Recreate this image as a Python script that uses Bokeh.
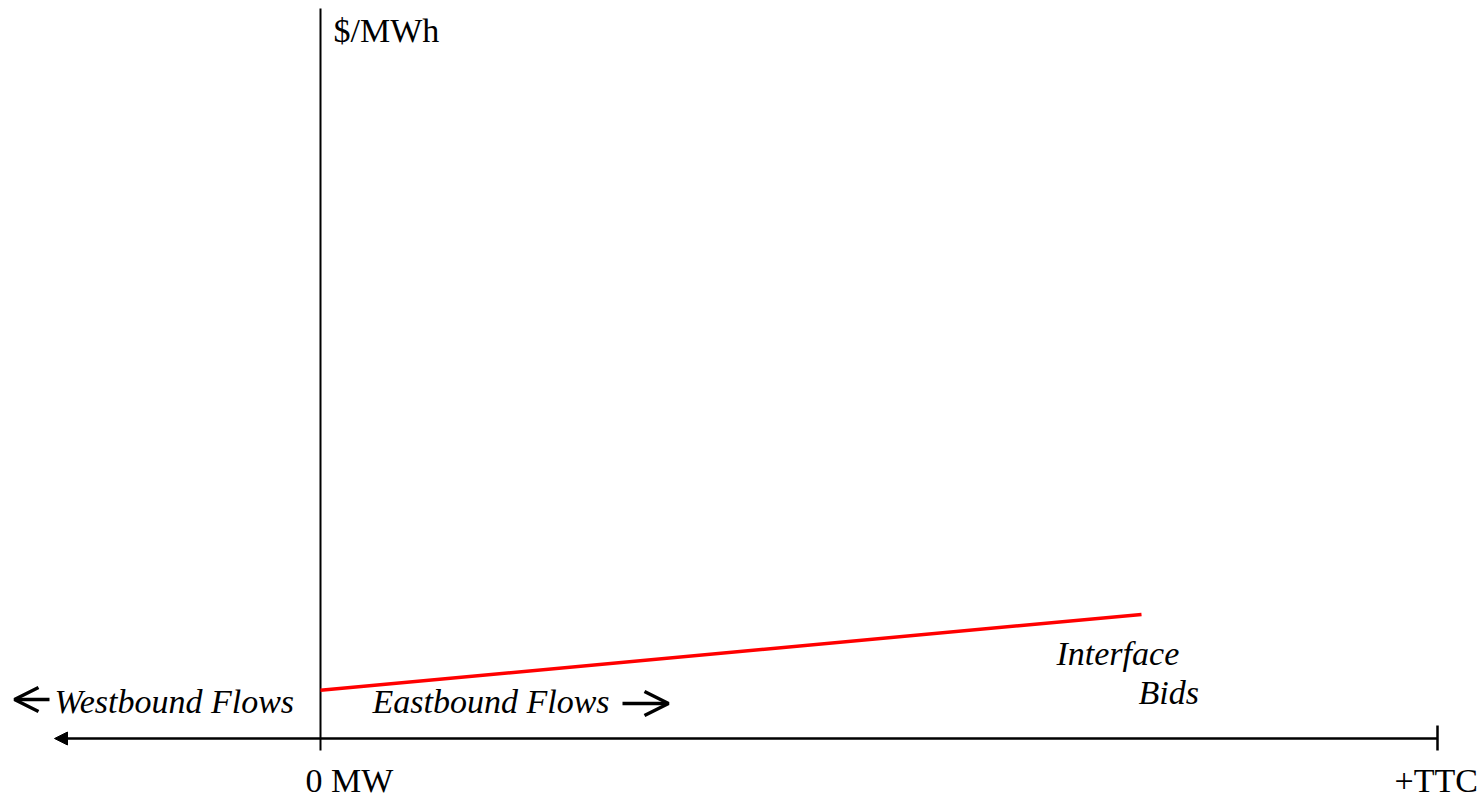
from bokeh.plotting import figure
from bokeh.models import Range1d, Label, Arrow, NormalHead, OpenHead
from bokeh.embed import file_html
from bokeh.resources import INLINE

# ---- data ----
flow_mw = [0, 735]            # interface bid curve, MW (eastbound)
bid_price = [6.6, 17.0]       # $/MWh
ttc_mw = 1000                 # total transfer capability
axis_tick_mw = [0, 1000]
axis_tick_labels = ["0 MW", "+TTC"]
y_axis_label = "$/MWh"
west_label = "Westbound Flows"
east_label = "Eastbound Flows"
curve_label = ["Interface", "Bids"]

# ---- layout ----
W, H = 1483, 800
PX_PER_MW = 1.117
PX_PER_PRICE = 7.3
ORIGIN_X = 320   # canvas px of 0 MW
ORIGIN_Y = 738   # canvas px (from top) of 0 $/MWh
TEXT_SHIFT = 11  # Label baseline correction


def xd(px):
    return (px - ORIGIN_X) / PX_PER_MW


def yd(py):
    return (ORIGIN_Y - py) / PX_PER_PRICE


x_range = Range1d(-ORIGIN_X / PX_PER_MW, (W - ORIGIN_X) / PX_PER_MW)
y_range = Range1d(-(H - ORIGIN_Y) / PX_PER_PRICE, ORIGIN_Y / PX_PER_PRICE)

p = figure(width=W, height=H, x_range=x_range, y_range=y_range,
           output_backend="svg", toolbar_location=None, min_border=0,
           x_axis_type=None, y_axis_type=None)
p.grid.visible = False
p.outline_line_color = None
p.background_fill_color = "white"

# vertical price axis
p.segment(x0=[axis_tick_mw[0]], y0=[yd(750)], x1=[axis_tick_mw[0]], y1=[yd(8)],
          line_color="black", line_width=2)

# horizontal MW axis with arrow to the west
p.add_layout(Arrow(end=NormalHead(size=13, fill_color="black", line_color="black", line_width=1),
                   x_start=ttc_mw, y_start=0, x_end=xd(54), y_end=0,
                   line_color="black", line_width=2.5))
# TTC tick
p.segment(x0=[axis_tick_mw[1]], y0=[yd(750)], x1=[axis_tick_mw[1]], y1=[yd(725)],
          line_color="black", line_width=2.5)

# interface bids curve
p.line(flow_mw, bid_price, line_color="#ff0000", line_width=3.5)

# direction arrows
p.add_layout(Arrow(end=OpenHead(size=24, line_color="black", line_width=3.5),
                   x_start=xd(49), y_start=yd(699), x_end=xd(14), y_end=yd(699),
                   line_color="black", line_width=3.5))
p.add_layout(Arrow(end=OpenHead(size=24, line_color="black", line_width=3.5),
                   x_start=xd(622), y_start=yd(703), x_end=xd(668), y_end=yd(703),
                   line_color="black", line_width=3.5))

FONT = "Liberation Serif"
FS = "34px"


def label(text, px, py, italic=False):
    p.add_layout(Label(x=xd(px), y=yd(py - TEXT_SHIFT), text=text, text_font=FONT,
                       text_font_size=FS, text_color="black",
                       text_font_style="italic" if italic else "normal",
                       text_align="left", text_baseline="alphabetic"))


label(y_axis_label, 333, 41)
label(west_label, 54, 712, italic=True)
label(east_label, 372, 712, italic=True)
label(curve_label[0], 1056, 664, italic=True)
label(curve_label[1], 1138, 703, italic=True)
label(axis_tick_labels[0], 305, 791)
label(axis_tick_labels[1], 1394, 791)

open("out.html", "w").write(file_html(p, INLINE))
